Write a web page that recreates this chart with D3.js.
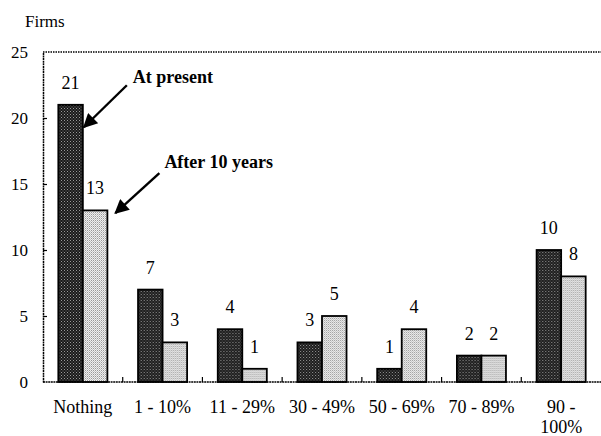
<!DOCTYPE html>
<html>
<head>
<meta charset="utf-8">
<script src="https://cdn.jsdelivr.net/npm/d3@7"></script>
<style>
  html, body { margin: 0; padding: 0; background: #fff; }
  svg { display: block; }
</style>
</head>
<body>
<svg id="chart" width="601" height="436"></svg>
<script>
// Share of output, firms per band
const categories = ["Nothing", "1 - 10%", "11 - 29%", "30 - 49%", "50 - 69%", "70 - 89%", "90 - 100%"];
const seriesNames = ["At present", "After 10 years"];
const atPresent = [21, 7, 4, 3, 1, 2, 10];
const after10Years = [13, 3, 1, 5, 4, 2, 8];
const yTicks = [0, 5, 10, 15, 20, 25];

const FONT = "Liberation Serif, Times New Roman, serif";
const svg = d3.select("#chart");
const plotLeft = 43, plotRight = 601, plotTop = 52, plotBottom = 382;

// Stipple fills for the two series
const defs = svg.append("defs");
const pd = defs.append("pattern").attr("id", "pDark").attr("patternUnits", "userSpaceOnUse")
  .attr("width", 3).attr("height", 3);
pd.append("rect").attr("width", 3).attr("height", 3).attr("fill", "#1a1a1a");
pd.append("rect").attr("x", 0).attr("y", 0).attr("width", 1).attr("height", 1).attr("fill", "#9a9a9a");
pd.append("rect").attr("x", 1.5).attr("y", 1.5).attr("width", 1).attr("height", 1).attr("fill", "#7a7a7a");
const pl = defs.append("pattern").attr("id", "pLight").attr("patternUnits", "userSpaceOnUse")
  .attr("width", 2).attr("height", 2);
pl.append("rect").attr("width", 2).attr("height", 2).attr("fill", "#f0f0f0");
pl.append("rect").attr("x", 0).attr("y", 0).attr("width", 1).attr("height", 1).attr("fill", "#9a9a9a");
pl.append("rect").attr("x", 1).attr("y", 1).attr("width", 1).attr("height", 1).attr("fill", "#c4c4c4");

const x0 = d3.scaleBand().domain(categories).range([plotLeft, plotRight]).padding(0);
const x1 = d3.scaleBand().domain(seriesNames).range([0, x0.bandwidth()])
  .paddingInner(0).paddingOuter(0.625);
const y = d3.scaleLinear().domain([0, 25]).range([plotBottom, plotTop]);

// Top frame line (dotted)
svg.append("line").attr("x1", plotLeft).attr("x2", plotRight).attr("y1", y(25)).attr("y2", y(25))
  .attr("stroke", "#000").attr("stroke-width", 1.5).attr("stroke-dasharray", "1.5,1");

// Y axis
const yAxis = d3.axisLeft(y).tickValues(yTicks).tickSize(-4).tickPadding(15).tickSizeOuter(0);
const gy = svg.append("g").attr("transform", `translate(${plotLeft},0)`).call(yAxis)
  .attr("font-family", FONT);
gy.select(".domain").attr("stroke", "#000").attr("stroke-width", 1.5).attr("stroke-dasharray", "2,0.6");
gy.selectAll(".tick line").attr("stroke", "#000").attr("stroke-width", 1.2);
gy.selectAll(".tick text").attr("fill", "#000")
  .attr("font-family", FONT).attr("font-size", 17);
gy.selectAll(".tick").filter(d => d === 25 || d === 0).select("line").remove();

// Bars
const rows = categories.map((c, i) => [
  { s: seriesNames[0], v: atPresent[i] },
  { s: seriesNames[1], v: after10Years[i] }
]);
const groups = svg.append("g").selectAll("g").data(categories).join("g")
  .attr("transform", d => `translate(${x0(d)},0)`);
groups.each(function (c, i) {
  const g = d3.select(this);
  g.selectAll("rect").data(rows[i]).join("rect")
    .attr("x", d => x1(d.s))
    .attr("y", d => y(d.v))
    .attr("width", x1.bandwidth())
    .attr("height", d => y(0) - y(d.v))
    .attr("fill", d => d.s === seriesNames[0] ? "url(#pDark)" : "url(#pLight)")
    .attr("stroke", "#000").attr("stroke-width", 1.8);
  g.selectAll("text.val").data(rows[i]).join("text").attr("class", "val")
    .attr("x", d => x1(d.s) + x1.bandwidth() / 2)
    .attr("y", d => y(d.v) - 16)
    .attr("text-anchor", "middle")
    .attr("font-family", FONT).attr("font-size", 18)
    .text(d => d.v);
});

// Baseline with category ticks
svg.append("line").attr("x1", plotLeft).attr("x2", plotRight).attr("y1", y(0)).attr("y2", y(0))
  .attr("stroke", "#000").attr("stroke-width", 1.5).attr("stroke-dasharray", "2,0.6");
svg.append("g").selectAll("line").data(categories.slice(1)).join("line")
  .attr("x1", d => x0(d)).attr("x2", d => x0(d))
  .attr("y1", y(0)).attr("y2", y(0) - 5)
  .attr("stroke", "#000").attr("stroke-width", 1.2);

// Category labels (last one wraps onto two lines)
const gx = svg.append("g");
categories.forEach(c => {
  const cx = x0(c) + x0.bandwidth() / 2;
  const t = gx.append("text").attr("x", cx).attr("y", 413).attr("text-anchor", "middle")
    .attr("font-family", FONT).attr("font-size", 18);
  if (c === "90 - 100%") {
    t.append("tspan").attr("x", cx).text("90 -");
    t.append("tspan").attr("x", cx).attr("dy", 20).text("100%");
  } else {
    t.text(c);
  }
});

// Axis title
svg.append("text").attr("x", 25).attr("y", 27)
  .attr("font-family", FONT).attr("font-size", 17).text("Firms");

// Series annotations with arrows
defs.append("marker").attr("id", "arrowHead").attr("viewBox", "0 0 10 10")
  .attr("refX", 9).attr("refY", 5).attr("markerWidth", 7).attr("markerHeight", 6)
  .attr("markerUnits", "strokeWidth").attr("orient", "auto")
  .append("path").attr("d", "M0,0 L10,5 L0,10 Z").attr("fill", "#000");

const annots = [
  { name: seriesNames[0], cat: "Nothing", v: 19.3, pad: 1, dx: 43, dy: -42, tx: 49, ty: -44 },
  { name: seriesNames[1], cat: "Nothing", v: 12.8, pad: 8, dx: 44, dy: -40, tx: 49, ty: -45 }
];
annots.forEach(a => {
  const bx = x0(a.cat) + x1(a.name) + x1.bandwidth() + a.pad;
  const by = y(a.v);
  svg.append("line").attr("x1", bx + a.dx).attr("y1", by + a.dy).attr("x2", bx).attr("y2", by)
    .attr("stroke", "#000").attr("stroke-width", 2.4).attr("marker-end", "url(#arrowHead)");
  svg.append("text").attr("x", bx + a.tx).attr("y", by + a.ty)
    .attr("font-family", FONT).attr("font-size", 18).attr("font-weight", "bold").text(a.name);
});
</script>
</body>
</html>
